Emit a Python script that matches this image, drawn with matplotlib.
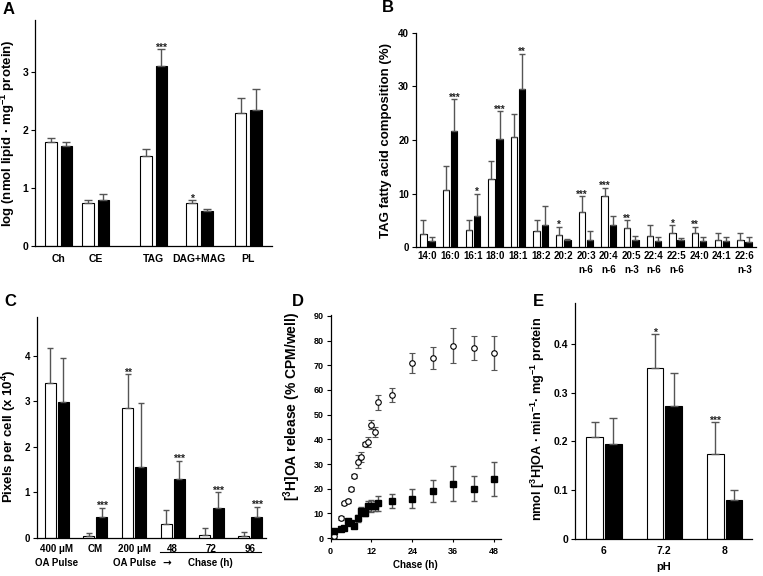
import matplotlib
matplotlib.use("Agg")
import matplotlib.pyplot as plt
import matplotlib.transforms as mtransforms
from matplotlib.lines import Line2D
import numpy as np

plt.rcParams["font.family"] = ["Liberation Sans", "DejaVu Sans"]
plt.rcParams["font.weight"] = "bold"
plt.rcParams["axes.labelweight"] = "bold"
plt.rcParams["mathtext.fontset"] = "custom"
plt.rcParams["mathtext.rm"] = "Liberation Sans:bold"
plt.rcParams["mathtext.it"] = "Liberation Sans:bold"
plt.rcParams["mathtext.bf"] = "Liberation Sans:bold"

W, H = 763, 576
ERR_COLOR = "#555555"

# ---- A: lipid classes ----
A_CATS = ["Ch", "CE", "TAG", "DAG+MAG", "PL"]
A_OPEN = [1.80, 0.75, 1.56, 0.75, 2.30]
A_OPEN_ERR = [0.07, 0.04, 0.12, 0.04, 0.26]
A_FILLED = [1.72, 0.79, 3.10, 0.61, 2.34]
A_FILLED_ERR = [0.08, 0.10, 0.30, 0.03, 0.37]
A_STARS_OPEN = ["", "", "", "*", ""]
A_STARS_FILLED = ["", "", "***", "", ""]

# ---- B: TAG fatty acids ----
B_CATS = ["14:0", "16:0", "16:1", "18:0", "18:1", "18:2", "20:2", "20:3\nn-6",
          "20:4\nn-6", "20:5\nn-3", "22:4\nn-6", "22:5\nn-6", "24:0", "24:1", "22:6\nn-3"]
B_OPEN = [2.5, 10.6, 3.1, 12.7, 20.6, 2.9, 2.3, 6.5, 9.5, 3.5, 2.0, 2.6, 2.6, 1.4, 1.25]
B_OPEN_ERR = [2.5, 4.6, 1.9, 3.3, 4.3, 2.1, 1.45, 3.0, 1.6, 1.5, 2.1, 1.5, 1.15, 1.3, 1.35]
B_FILLED = [1.1, 21.6, 5.8, 20.25, 29.6, 4.1, 1.25, 1.4, 4.1, 1.4, 1.1, 1.25, 1.1, 1.1, 0.95]
B_FILLED_ERR = [0.8, 6.0, 4.2, 5.15, 6.5, 3.5, 0.25, 1.5, 1.65, 0.6, 0.8, 0.45, 0.8, 0.8, 0.85]
B_STARS_OPEN = ["", "", "", "", "", "", "*", "***", "***", "**", "", "*", "**", "", ""]
B_STARS_FILLED = ["", "***", "*", "***", "**", "", "", "", "", "", "", "", "", "", ""]

# ---- C: lipid droplets ----
C_CATS = ["400 μM\nOA Pulse", "CM", "200 μM\nOA Pulse", "48", "72", "96"]
C_OPEN = [3.41, 0.05, 2.85, 0.31, 0.07, 0.05]
C_OPEN_ERR = [0.75, 0.06, 0.74, 0.30, 0.15, 0.08]
C_FILLED = [2.99, 0.45, 1.55, 1.30, 0.66, 0.47]
C_FILLED_ERR = [0.95, 0.21, 1.41, 0.40, 0.34, 0.22]
C_STARS_OPEN = ["", "", "**", "", "", ""]
C_STARS_FILLED = ["", "***", "", "***", "***", "***"]

# ---- D: OA release time course ----
D_TIME = [1, 3, 4, 5, 6, 7, 8, 9, 10, 11, 12, 13, 14, 18, 24, 30, 36, 42, 48]
D_OPEN = [1, 8, 14, 15, 20, 25, 31, 33, 38, 39, 46, 43, 55, 58, 71, 73, 78, 77, 75]
D_OPEN_ERR = [0.8, 0.8, 0.8, 0.8, 0.8, 0.8, 2.5, 2, 0.8, 2, 2, 2, 3, 3, 4, 4.5, 7, 5, 7]
D_FILLED = [3, 3.5, 4, 7, 6, 5, 8, 11, 10, 13, 13, 13, 14, 15, 16, 19, 22, 20, 24]
D_FILLED_ERR = [0.8, 0.8, 0.8, 0.8, 0.8, 0.8, 1.5, 1.5, 1, 2, 2.5, 2, 3, 3, 4, 4.5, 7, 5, 7]

# ---- E: lipase activity vs pH ----
E_CATS = ["6", "7.2", "8"]
E_OPEN = [0.21, 0.35, 0.175]
E_OPEN_ERR = [0.029, 0.07, 0.065]
E_FILLED = [0.195, 0.272, 0.08]
E_FILLED_ERR = [0.054, 0.068, 0.02]
E_STARS_OPEN = ["", "*", "***"]
E_STARS_FILLED = ["", "", ""]


def px_rect(left, right, top, bottom):
    return [left / W, 1 - bottom / H, (right - left) / W, (bottom - top) / H]


def style(ax, tick_fs):
    ax.spines[["top", "right"]].set_visible(False)
    for s in ("left", "bottom"):
        ax.spines[s].set_linewidth(0.9)
    ax.tick_params(axis="y", direction="out", length=3, width=0.8, pad=2, labelsize=tick_fs)


def paired_bars(ax, pos, open_v, open_e, fill_v, fill_e, stars_o, stars_f,
                width, off, capsize, star_fs):
    pos = np.asarray(pos, dtype=float)
    ax.bar(pos - off, open_v, width, color="white", edgecolor="black", linewidth=0.8, zorder=2)
    ax.bar(pos + off, fill_v, width, color="black", edgecolor="black", linewidth=0.8, zorder=2)
    for xs, v, e in ((pos - off, open_v, open_e), (pos + off, fill_v, fill_e)):
        ax.errorbar(xs, v, yerr=[np.zeros(len(e)), e], fmt="none", ecolor=ERR_COLOR,
                    elinewidth=1.0, capsize=capsize, capthick=1.0, zorder=3)
    for xs, v, e, st in ((pos - off, open_v, open_e, stars_o), (pos + off, fill_v, fill_e, stars_f)):
        for x, y, err, s in zip(xs, v, e, st):
            if s:
                ax.annotate(s, (x, y + err), xytext=(0, -1), textcoords="offset points",
                            ha="center", va="baseline", fontsize=star_fs, color="#222222")
    ax.tick_params(axis="x", length=0)


fig = plt.figure(figsize=(W / 100, H / 100), dpi=100)

# A
axA = fig.add_axes(px_rect(35, 272, 20, 246))
A_POS = [23.7, 60.7, 118.7, 164.3, 213.3]
paired_bars(axA, A_POS, A_OPEN, A_OPEN_ERR, A_FILLED, A_FILLED_ERR,
            A_STARS_OPEN, A_STARS_FILLED, 11.7, 7.7, 2.9, 7.5)
axA.set_xlim(0, 237)
axA.set_ylim(0, 3.9)
axA.set_yticks([0, 1, 2, 3])
axA.set_xticks(A_POS)
axA.set_xticklabels(A_CATS)
style(axA, 7.5)
axA.tick_params(axis="x", pad=6, labelsize=7.5)
axA.set_ylabel("log (nmol lipid · mg$^{-1}$ protein)", fontsize=9.5)
axA.yaxis.set_label_coords(-0.076, 0.5)

# B
axB = fig.add_axes(px_rect(416, 756, 33, 247))
B_POS = np.arange(len(B_CATS))
paired_bars(axB, B_POS, B_OPEN, B_OPEN_ERR, B_FILLED, B_FILLED_ERR,
            B_STARS_OPEN, B_STARS_FILLED, 0.28, 0.18, 2.0, 7)
axB.set_xlim(-0.51, 14.51)
axB.set_ylim(0, 40)
axB.set_yticks([0, 10, 20, 30, 40])
axB.set_xticks(B_POS)
axB.set_xticklabels(B_CATS, linespacing=1.5)
style(axB, 7)
axB.tick_params(axis="x", pad=3, labelsize=7)
axB.set_ylabel("TAG fatty acid composition (%)", fontsize=9.5)
axB.yaxis.set_label_coords(-0.071, 0.5)

# C
axC = fig.add_axes(px_rect(37, 266, 317, 538))
C_POS = np.arange(len(C_CATS))
paired_bars(axC, C_POS, C_OPEN, C_OPEN_ERR, C_FILLED, C_FILLED_ERR,
            C_STARS_OPEN, C_STARS_FILLED, 0.285, 0.17, 2.4, 7.5)
axC.set_xlim(-0.51, 5.41)
axC.set_ylim(0, 4.85)
axC.set_yticks([0, 1, 2, 3, 4])
axC.set_xticks(C_POS)
axC.set_xticklabels(C_CATS, linespacing=1.6)
style(axC, 7)
axC.tick_params(axis="x", pad=4, labelsize=7)
axC.set_ylabel("Pixels per cell (x 10$^{4}$)", fontsize=9.5)
axC.yaxis.set_label_coords(-0.083, 0.46)
trC = mtransforms.blended_transform_factory(axC.transData, axC.transAxes)
axC.add_line(Line2D([2.67, 5.28], [-0.063, -0.063], transform=trC, color="black",
                    linewidth=0.8, clip_on=False))
axC.text(2.85, -0.113, "→", transform=trC, ha="center", va="center", fontsize=7.5,
         family=["DejaVu Sans"])
axC.text(3.98, -0.113, "Chase (h)", transform=trC, ha="center", va="center", fontsize=7)

# D
axD = fig.add_axes(px_rect(330.5, 501, 315, 539))
axD.errorbar(D_TIME, D_OPEN, yerr=D_OPEN_ERR, fmt="o", color="black", mfc="white",
             mec="black", mew=0.8, ms=4, ecolor=ERR_COLOR, elinewidth=1.0,
             capsize=2.2, capthick=1.0, zorder=3)
axD.errorbar(D_TIME, D_FILLED, yerr=D_FILLED_ERR, fmt="s", color="black", mfc="black",
             mec="black", ms=4.2, ecolor=ERR_COLOR, elinewidth=1.0,
             capsize=2.2, capthick=1.0, zorder=3)
axD.set_xlim(0, 50)
axD.set_ylim(-0.4, 90.4)
axD.set_xticks([0, 12, 24, 36, 48])
axD.set_yticks(np.arange(0, 91, 10))
style(axD, 6.5)
axD.tick_params(axis="x", direction="out", length=2.5, width=0.8, pad=3, labelsize=6.5)
axD.set_xlabel("Chase (h)", fontsize=7, labelpad=3)
axD.set_ylabel("[$^{3}$H]OA release (% CPM/well)", fontsize=10)
axD.yaxis.set_label_coords(-0.161, 0.59)

# E
axE = fig.add_axes(px_rect(575, 752, 303, 539))
E_POS = np.arange(len(E_CATS))
paired_bars(axE, E_POS, E_OPEN, E_OPEN_ERR, E_FILLED, E_FILLED_ERR,
            E_STARS_OPEN, E_STARS_FILLED, 0.276, 0.155, 3.0, 7.5)
axE.set_xlim(-0.48, 2.455)
axE.set_ylim(0, 0.484)
axE.set_yticks([0, 0.1, 0.2, 0.3, 0.4])
axE.set_yticklabels(["0", "0.1", "0.2", "0.3", "0.4"])
axE.set_xticks(E_POS)
axE.set_xticklabels(E_CATS)
style(axE, 7.5)
axE.tick_params(axis="x", pad=5, labelsize=7.5)
axE.set_xlabel("pH", fontsize=8, labelpad=4)
axE.set_ylabel("nmol [$^{3}$H]OA · min$^{-1}$· mg$^{-1}$ protein", fontsize=9.1)
axE.yaxis.set_label_coords(-0.158, 0.51)

for letter, x, y in (("A", 3, 9), ("B", 382, 8), ("C", 4, 302), ("D", 292, 302), ("E", 533, 301)):
    fig.text(x / W, 1 - y / H, letter, fontsize=12, fontweight="bold", ha="left", va="center")

fig.savefig("out.png", dpi=100)
